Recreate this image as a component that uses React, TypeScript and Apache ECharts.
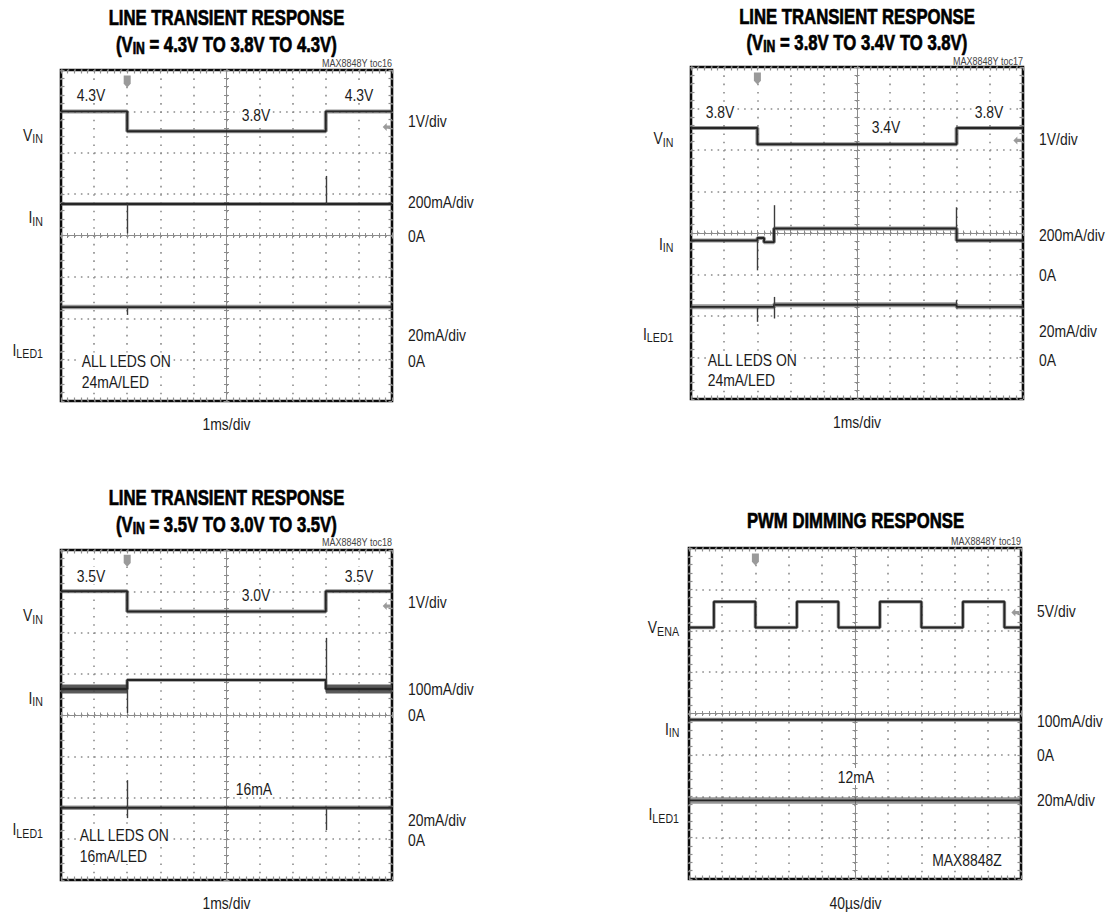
import React, { useEffect, useRef } from "react";
import * as echarts from "echarts";

// ---------------- DATA (in scope divisions from screen centre: x -5..5, y -4..4) ----------------
// Panel 1 : VIN 4.3V -> 3.8V -> 4.3V
const p1VinX = [-5, -3, 3, 5];
const p1VinY = [3.0, 2.52, 3.0, 3.0];
const p1IinX = [-5, 5];
const p1IinY = [0.76, 0.76];
const p1LedX = [-5, 5];
const p1LedY = [-1.73, -1.73];
const p1SpikeX = [-3, 3, -3];
const p1SpikeFrom = [0.76, 0.76, -1.73];
const p1SpikeTo = [0.05, 1.44, -1.92];

// Panel 2 : VIN 3.8V -> 3.4V -> 3.8V
const p2VinX = [-5, -3, 3, 5];
const p2VinY = [2.53, 2.14, 2.53, 2.53];
const p2IinX = [-5, -3, -2.8, -2.5, 3, 5];
const p2IinY = [-0.18, -0.12, -0.22, 0.11, -0.18, -0.18];
const p2LedX = [-5, -2.5, 3, 5];
const p2LedY = [-1.78, -1.73, -1.78, -1.78];
const p2SpikeX = [-3, -2.5, 3, -3, -2.5, -2.5, 3];
const p2SpikeFrom = [-0.18, 0.11, 0.11, -1.78, -1.73, -1.73, -1.73];
const p2SpikeTo = [-0.9, 0.67, 0.62, -2.14, -1.54, -2.06, -1.62];

// Panel 3 : VIN 3.5V -> 3.0V -> 3.5V
const p3VinX = [-5, -3, 3, 5];
const p3VinY = [3.0, 2.51, 3.0, 3.0];
const p3IinX = [-5, -3, 3, 5];
const p3IinY = [0.63, 0.85, 0.63, 0.63];
const p3IinNoisySpans = [[-5, -3], [3, 5]];
const p3LedX = [-5, 5];
const p3LedY = [-2.25, -2.25];
const p3SpikeX = [-3, 3, -3, -3, 3];
const p3SpikeFrom = [0.63, 0.85, -2.25, -2.25, -2.25];
const p3SpikeTo = [0.05, 1.87, -1.58, -2.5, -2.79];

// Panel 4 : PWM dimming
const p4EnaX = [-5, -4.25, -3, -1.75, -0.5, 0.75, 2, 3.25, 4.5, 5];
const p4EnaY = [2.08, 2.7, 2.08, 2.7, 2.08, 2.7, 2.08, 2.7, 2.08, 2.08];
const p4IinX = [-5, 5];
const p4IinY = [-0.15, -0.15];
const p4LedX = [-5, 5];
const p4LedY = [-2.1, -2.1];

// scope markers (trigger "T" and channel arrow)
const trigX = [-3, -3, -3, -3];
const trigY = [3.72, 3.72, 3.74, 3.72];
const arrowX = [4.84, 4.83, 4.84, 4.83];
const arrowY = [2.62, 2.23, 2.64, 2.44];

// ---------------- LAYOUT ----------------
const GRIDS = [
  { left: 61, top: 70, width: 331, height: 331 },
  { left: 691, top: 67, width: 332, height: 332 },
  { left: 61, top: 550, width: 331, height: 330 },
  { left: 689, top: 548, width: 332, height: 331 },
];

const FAMILY = '"Liberation Sans", Arial, Helvetica, sans-serif';
const SX = 0.82;
const TSX = 0.76;
const TSIZE = 22;
const INK = "#1c1c1c";
const GRID_C = "#8c8c8c";

let measureCtx: CanvasRenderingContext2D | null = null;
function measure(text: string, size: number, bold = false, sx = SX) {
  if (!measureCtx) measureCtx = document.createElement("canvas").getContext("2d");
  measureCtx!.font = `${bold ? "bold " : ""}${size}px ${FAMILY}`;
  return measureCtx!.measureText(text).width * sx;
}

type TO = { size?: number; bold?: boolean; align?: string; color?: string; bg?: boolean; sx?: number; heavy?: boolean };
function txt(text: string, x: number, y: number, o: TO = {}) {
  const size = o.size ?? 17;
  const align = o.align ?? "left";
  const style: any = {
    text,
    fill: o.color ?? INK,
    fontSize: size,
    fontWeight: o.bold ? "bold" : "normal",
    fontFamily: FAMILY,
    align,
    verticalAlign: "middle",
    textAlign: align,
    textVerticalAlign: "middle",
  };
  if (o.heavy) {
    style.stroke = o.color ?? INK;
    style.lineWidth = 0.7;
  }
  if (o.bg) {
    style.backgroundColor = "#ffffff";
    style.padding = [0, 2, 0, 2];
  }
  return { type: "text", x, y, scaleX: o.sx ?? SX, z: 100, silent: true, style };
}

function title(text: string, cx: number, yc: number) {
  return txt(text, cx, yc, { size: TSIZE, bold: true, align: "center", sx: TSX, heavy: true, color: "#000" });
}

function subLabel(main: string, sub: string, xRight: number, yc: number) {
  const ws = measure(sub, 13);
  return [
    txt(main, xRight - ws, yc, { size: 17, align: "right" }),
    txt(sub, xRight, yc + 4.3, { size: 13, align: "right" }),
  ];
}

function subTitle(pre: string, sub: string, post: string, cx: number, yc: number) {
  const w1 = measure(pre, TSIZE, true, TSX);
  const w2 = measure(sub, 16, true, TSX);
  const w3 = measure(post, TSIZE, true, TSX);
  const x0 = cx - (w1 + w2 + w3) / 2;
  const o = { bold: true, sx: TSX, heavy: true, color: "#000" };
  return [
    txt(pre, x0, yc, { ...o, size: TSIZE }),
    txt(sub, x0 + w1, yc + 4, { ...o, size: 16 }),
    txt(post, x0 + w1 + w2, yc, { ...o, size: TSIZE }),
  ];
}

function buildTexts() {
  const t: any[] = [];
  // Panel 1
  t.push(title("LINE TRANSIENT RESPONSE", 226.5, 17.5));
  t.push(...subTitle("(V", "IN", " = 4.3V TO 3.8V TO 4.3V)", 226.5, 44));
  t.push(txt("MAX8848Y toc16", 392, 63, { size: 11, align: "right", color: "#444" }));
  t.push(txt("4.3V", 75, 94.5, { bg: true }));
  t.push(txt("3.8V", 240, 114.5, { bg: true }));
  t.push(txt("4.3V", 343, 94.5, { bg: true }));
  t.push(txt("1V/div", 408, 121));
  t.push(txt("200mA/div", 408, 202));
  t.push(txt("0A", 408, 236));
  t.push(txt("20mA/div", 408, 335));
  t.push(txt("0A", 408, 361));
  t.push(txt("ALL LEDS ON", 80, 361, { bg: true }));
  t.push(txt("24mA/LED", 80, 382, { bg: true }));
  t.push(txt("1ms/div", 226.5, 424, { align: "center" }));
  t.push(...subLabel("V", "IN", 43, 134.5));
  t.push(...subLabel("I", "IN", 43, 217));
  t.push(...subLabel("I", "LED1", 43, 349.5));

  // Panel 2
  t.push(title("LINE TRANSIENT RESPONSE", 857, 16));
  t.push(...subTitle("(V", "IN", " = 3.8V TO 3.4V TO 3.8V)", 857, 42));
  t.push(txt("MAX8848Y toc17", 1023, 61, { size: 11, align: "right", color: "#444" }));
  t.push(txt("3.8V", 704, 111.5, { bg: true }));
  t.push(txt("3.4V", 870, 126.5, { bg: true }));
  t.push(txt("3.8V", 973, 111.5, { bg: true }));
  t.push(txt("1V/div", 1039, 138.5));
  t.push(txt("200mA/div", 1039, 235));
  t.push(txt("0A", 1039, 275));
  t.push(txt("20mA/div", 1039, 330.5));
  t.push(txt("0A", 1039, 359.5));
  t.push(txt("ALL LEDS ON", 706, 359.5, { bg: true }));
  t.push(txt("24mA/LED", 706, 380, { bg: true }));
  t.push(txt("1ms/div", 857, 421.5, { align: "center" }));
  t.push(...subLabel("V", "IN", 673.5, 138));
  t.push(...subLabel("I", "IN", 673.5, 243.5));
  t.push(...subLabel("I", "LED1", 673.5, 333.5));

  // Panel 3
  t.push(title("LINE TRANSIENT RESPONSE", 226.5, 497));
  t.push(...subTitle("(V", "IN", " = 3.5V TO 3.0V TO 3.5V)", 226.5, 524));
  t.push(txt("MAX8848Y toc18", 392, 542, { size: 11, align: "right", color: "#444" }));
  t.push(txt("3.5V", 75, 575.5, { bg: true }));
  t.push(txt("3.0V", 240, 594.5, { bg: true }));
  t.push(txt("3.5V", 343, 575.5, { bg: true }));
  t.push(txt("1V/div", 408, 601.5));
  t.push(txt("100mA/div", 408, 688.5));
  t.push(txt("0A", 408, 715));
  t.push(txt("16mA", 234, 788.5, { bg: true }));
  t.push(txt("20mA/div", 408, 820));
  t.push(txt("0A", 408, 840));
  t.push(txt("ALL LEDS ON", 78, 834.5, { bg: true }));
  t.push(txt("16mA/LED", 78, 855.5, { bg: true }));
  t.push(txt("1ms/div", 226.5, 902.5, { align: "center" }));
  t.push(...subLabel("V", "IN", 43, 615));
  t.push(...subLabel("I", "IN", 43, 697.5));
  t.push(...subLabel("I", "LED1", 43, 829));

  // Panel 4
  t.push(title("PWM DIMMING RESPONSE", 855.5, 520));
  t.push(txt("MAX8848Y toc19", 1021, 541, { size: 11, align: "right", color: "#444" }));
  t.push(txt("5V/div", 1037, 610.5));
  t.push(txt("100mA/div", 1037, 720.5));
  t.push(txt("0A", 1037, 755));
  t.push(txt("12mA", 856, 776.5, { align: "center", bg: true }));
  t.push(txt("20mA/div", 1037, 800));
  t.push(txt("MAX8848Z", 967, 859.5, { align: "center", bg: true }));
  t.push(txt("40µs/div", 855.5, 902.5, { align: "center" }));
  t.push(...subLabel("V", "ENA", 679, 627));
  t.push(...subLabel("I", "IN", 679.5, 728.5));
  t.push(...subLabel("I", "LED1", 679, 814));
  return t;
}

const TRIG_SYMBOL = "path://M0,0 L10,0 L10,11 L5,16 L0,11 Z";
const ARROW_SYMBOL = "path://M0,5 L5,0 L5,3 L10,3 L10,7 L5,7 L5,10 Z";
const AX_PER_GRID = 4;

function pairs(xs: number[], ys: number[]) {
  return xs.map((x, i) => [x, ys[i]]);
}

function trace(g: number, xs: number[], ys: number[], band: number, extra: any = {}) {
  const ax = { xAxisIndex: AX_PER_GRID * g, yAxisIndex: AX_PER_GRID * g };
  return [
    {
      type: "line", ...ax,
      data: pairs(xs, ys),
      step: "end", symbol: "none", silent: true, z: 3,
      lineStyle: { width: band, color: "rgba(80,80,80,0.6)" },
    },
    {
      type: "line", ...ax,
      data: pairs(xs, ys),
      step: "end", symbol: "none", silent: true, z: 4,
      lineStyle: { width: 1.9, color: "#262626" },
      ...extra,
    },
  ];
}

function spikes(xs: number[], from: number[], to: number[]) {
  return {
    silent: true,
    symbol: ["none", "none"],
    label: { show: false },
    lineStyle: { type: "solid", color: "#3c3c3c", width: 1.4 },
    emphasis: { disabled: true },
    data: xs.map((x, i) => [{ coord: [x, from[i]] }, { coord: [x, to[i]] }]),
  };
}

function markers(g: number) {
  return {
    silent: true,
    label: { show: false },
    itemStyle: { color: "#9a9a9a" },
    data: [
      { coord: [trigX[g], trigY[g]], symbol: TRIG_SYMBOL, symbolSize: [7, 12] },
      { coord: [arrowX[g], arrowY[g]], symbol: ARROW_SYMBOL, symbolSize: [8, 8] },
    ],
  };
}

function buildOption() {
  const xAxis: any[] = [];
  const yAxis: any[] = [];
  GRIDS.forEach((gr, g) => {
    const dx = gr.width / 10;
    const dy = gr.height / 8;
    const centre = {
      axisLine: { onZero: true, lineStyle: { color: GRID_C, width: 1 } },
      axisTick: { show: true, length: 3, lineStyle: { color: GRID_C, width: 1 } },
      minorTick: { show: true, splitNumber: 5, length: 2.5, lineStyle: { color: GRID_C, width: 1 } },
      axisLabel: { show: false },
    };
    const edge = {
      axisLine: { show: false, onZero: false },
      axisTick: { show: true, inside: true, length: 3.5, lineStyle: { color: GRID_C, width: 1.2 } },
      minorTick: { show: true, splitNumber: 5, length: 3.5, lineStyle: { color: GRID_C, width: 1.2 } },
      axisLabel: { show: false },
      splitLine: { show: false },
    };
    const xb = { gridIndex: g, type: "value", min: -5, max: 5, interval: 1 };
    const yb = { gridIndex: g, type: "value", min: -4, max: 4, interval: 1 };
    xAxis.push({
      ...xb, position: "bottom", ...centre,
      splitLine: { show: true, lineStyle: { color: GRID_C, width: 1.6, type: [1.6, dy / 5 - 1.6] } },
    });
    xAxis.push({ ...xb, position: "top", ...centre, splitLine: { show: false } });
    xAxis.push({ ...xb, position: "bottom", ...edge });
    xAxis.push({ ...xb, position: "top", ...edge });
    yAxis.push({
      ...yb, position: "left", ...centre,
      splitLine: { show: true, lineStyle: { color: GRID_C, width: 1.6, type: [1.6, dx / 5 - 1.6] } },
    });
    yAxis.push({ ...yb, position: "right", ...centre, splitLine: { show: false } });
    yAxis.push({ ...yb, position: "left", ...edge });
    yAxis.push({ ...yb, position: "right", ...edge });
  });

  const series: any[] = [];
  // Panel 1
  series.push(...trace(0, p1VinX, p1VinY, 4, { markPoint: markers(0) }));
  series.push(...trace(0, p1IinX, p1IinY, 4, { markLine: spikes(p1SpikeX, p1SpikeFrom, p1SpikeTo) }));
  series.push(...trace(0, p1LedX, p1LedY, 4.5));
  // Panel 2
  series.push(...trace(1, p2VinX, p2VinY, 4, { markPoint: markers(1) }));
  series.push(...trace(1, p2IinX, p2IinY, 4, { markLine: spikes(p2SpikeX, p2SpikeFrom, p2SpikeTo) }));
  series.push(...trace(1, p2LedX, p2LedY, 5));
  // Panel 3
  series.push(...trace(2, p3VinX, p3VinY, 4, { markPoint: markers(2) }));
  series.push(...trace(2, p3IinX, p3IinY, 3.5, { markLine: spikes(p3SpikeX, p3SpikeFrom, p3SpikeTo) }));
  p3IinNoisySpans.forEach((span) => {
    series.push({
      type: "line", xAxisIndex: AX_PER_GRID * 2, yAxisIndex: AX_PER_GRID * 2,
      symbol: "none", silent: true, z: 3,
      data: span.map((x) => [x, p3IinY[0]]),
      lineStyle: { width: 9, color: "rgba(60,60,60,0.85)" },
    });
  });
  series.push(...trace(2, p3LedX, p3LedY, 4.5));
  // Panel 4
  series.push(...trace(3, p4EnaX, p4EnaY, 3.5, { markPoint: markers(3) }));
  series.push(...trace(3, p4IinX, p4IinY, 4));
  series.push(...trace(3, p4LedX, p4LedY, 6.5));

  return {
    animation: false,
    backgroundColor: "#ffffff",
    grid: GRIDS.map((gr) => ({
      ...gr,
      show: true,
      borderColor: "#0a0a0a",
      borderWidth: 2.6,
      backgroundColor: "transparent",
      containLabel: false,
    })),
    xAxis,
    yAxis,
    series,
    graphic: { elements: buildTexts() },
  };
}

export default function App() {
  const ref = useRef<HTMLDivElement>(null);
  useEffect(() => {
    if (!ref.current) return;
    const chart = echarts.init(ref.current, undefined, { renderer: "svg" });
    chart.setOption(buildOption() as any);
    return () => chart.dispose();
  }, []);
  return (
    <div
      ref={ref}
      style={{ position: "absolute", left: 0, top: 0, width: 1113, height: 913, background: "#fff" }}
    />
  );
}
